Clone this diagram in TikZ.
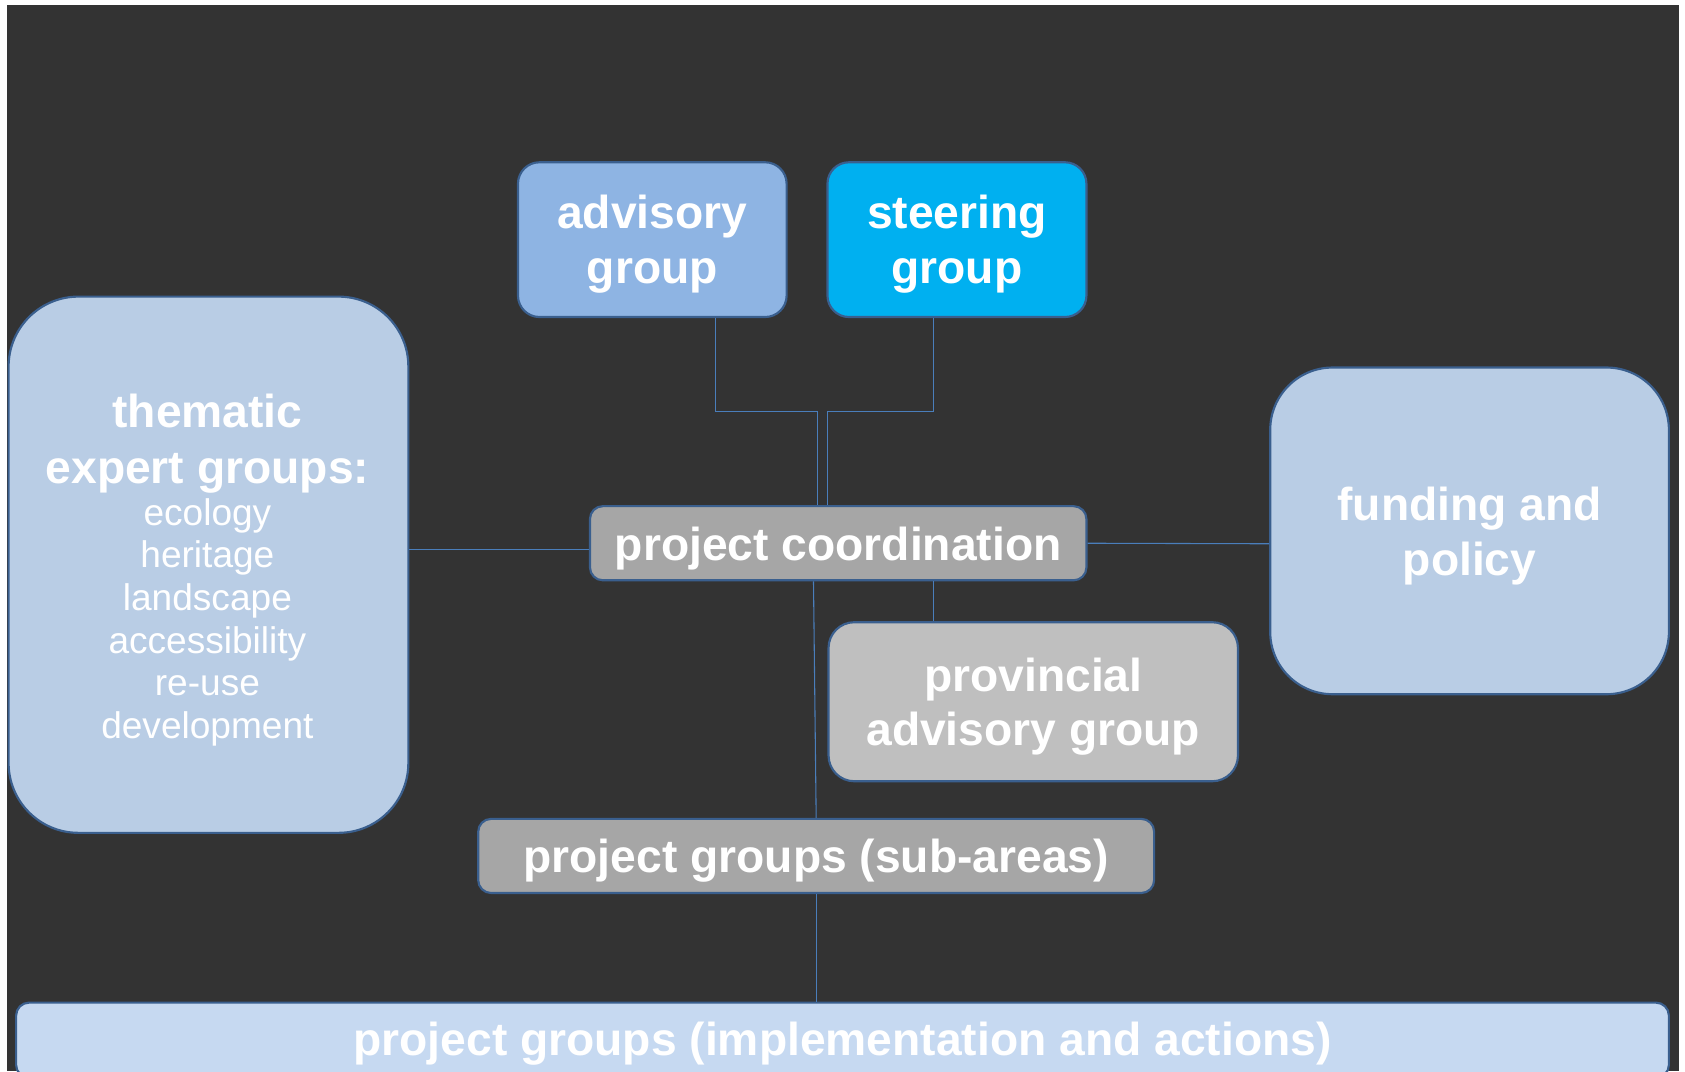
\documentclass[tikz,border=0pt]{standalone}
\usepackage{fontspec}
\setmainfont{Liberation Sans}
\usetikzlibrary{calc}
\definecolor{bgdark}{HTML}{333333}
\definecolor{bordc}{HTML}{3A5F8E}
\definecolor{connc}{HTML}{4A7EBB}
\definecolor{advc}{HTML}{8EB4E3}
\definecolor{steerc}{HTML}{00B0F0}
\definecolor{paleblue}{HTML}{B9CDE5}
\definecolor{bottomc}{HTML}{C6D9F1}
\definecolor{grayA}{HTML}{A6A6A6}
\definecolor{grayB}{HTML}{BFBFBF}
\begin{document}
\begin{tikzpicture}[x=1pt,y=-1pt,
  box/.style={draw=bordc, line width=2pt, inner sep=0pt},
  conn/.style={draw=connc, line width=1pt},
  txt/.style={text=white, align=center, inner sep=0pt},
  lbl/.style={txt, font=\fontsize{43}{51}\selectfont\bfseries}]
\useasboundingbox (0,0) rectangle (1568,997);
\fill[white] (0,0) rectangle (1568,997);
\fill[bgdark] (6.5,4.7) rectangle (1562.5,997);

% boxes
\node[box, fill=advc, rounded corners=20pt, minimum width=250pt, minimum height=144pt] (adv) at (607,223) {};
\node[box, fill=steerc, rounded corners=20pt, minimum width=241pt, minimum height=144pt] (steer) at (890.5,223) {};
\node[box, fill=paleblue, rounded corners=65pt, minimum width=372pt, minimum height=499pt] (them) at (194,525.5) {};
\node[box, fill=paleblue, rounded corners=58pt, minimum width=371pt, minimum height=304pt] (fund) at (1367.5,494) {};
\node[box, fill=grayA, rounded corners=12pt, minimum width=462pt, minimum height=69pt] (coord) at (780,505.5) {};
\node[box, fill=grayB, rounded corners=24pt, minimum width=381pt, minimum height=148pt] (prov) at (961.5,653) {};
\node[box, fill=grayA, rounded corners=12pt, minimum width=629pt, minimum height=69pt] (sub) at (759.5,796.5) {};
\node[box, fill=bottomc, rounded corners=12pt, minimum width=1538pt, minimum height=70pt] (impl) at (784,968) {};

% texts
\node[lbl] (advt) at ([yshift=-4.5pt]adv.center) {advisory\\group};
\node[lbl] (steert) at ([yshift=-4.5pt]steer.center) {steering\\group};
\node[txt, font=\fontsize{43}{52}\selectfont\bfseries] (themtitle) at (193,412.5) {thematic\\expert groups:};
\node[txt, font=\fontsize{34.5}{39.7}\selectfont] (themlist) at (193,579) {ecology\\heritage\\landscape\\accessibility\\re-use\\development};
\node[lbl] (fundt) at ([yshift=-4.5pt]fund.center) {funding and\\policy};
\node[lbl] (coordt) at ([yshift=-4.5pt]coord.center) {project coordination};
\node[lbl] (provt) at ([yshift=-4.5pt]prov.center) {provincial\\advisory group};
\node[lbl] (subt) at ([yshift=-4.5pt]sub.center) {project groups (sub-areas)};
\node[lbl] (implt) at ([yshift=-3.5pt]impl.center) {project groups (implementation and actions)};

% connectors
\draw[conn] ([xshift=59pt]adv.south) -- ++(0,87) -| ([xshift=-19pt]coord.north);
\draw[conn] ([xshift=-21.5pt]steer.south) -- ++(0,87) -| ([xshift=-10pt]coord.north);
\draw[conn] ([yshift=14.5pt]them.east) -- ([yshift=-5.5pt]coord.west);
\draw[conn] (coord.east) -- ([yshift=-12pt]fund.west);
\draw[conn] ([xshift=89pt]coord.south) -- ([xshift=-92.5pt]prov.north);
\draw[conn] ([xshift=-23pt]coord.south) -- (sub.north);
\draw[conn] (sub.south) -- ([xshift=-24.5pt]impl.north);
\end{tikzpicture}
\end{document}
